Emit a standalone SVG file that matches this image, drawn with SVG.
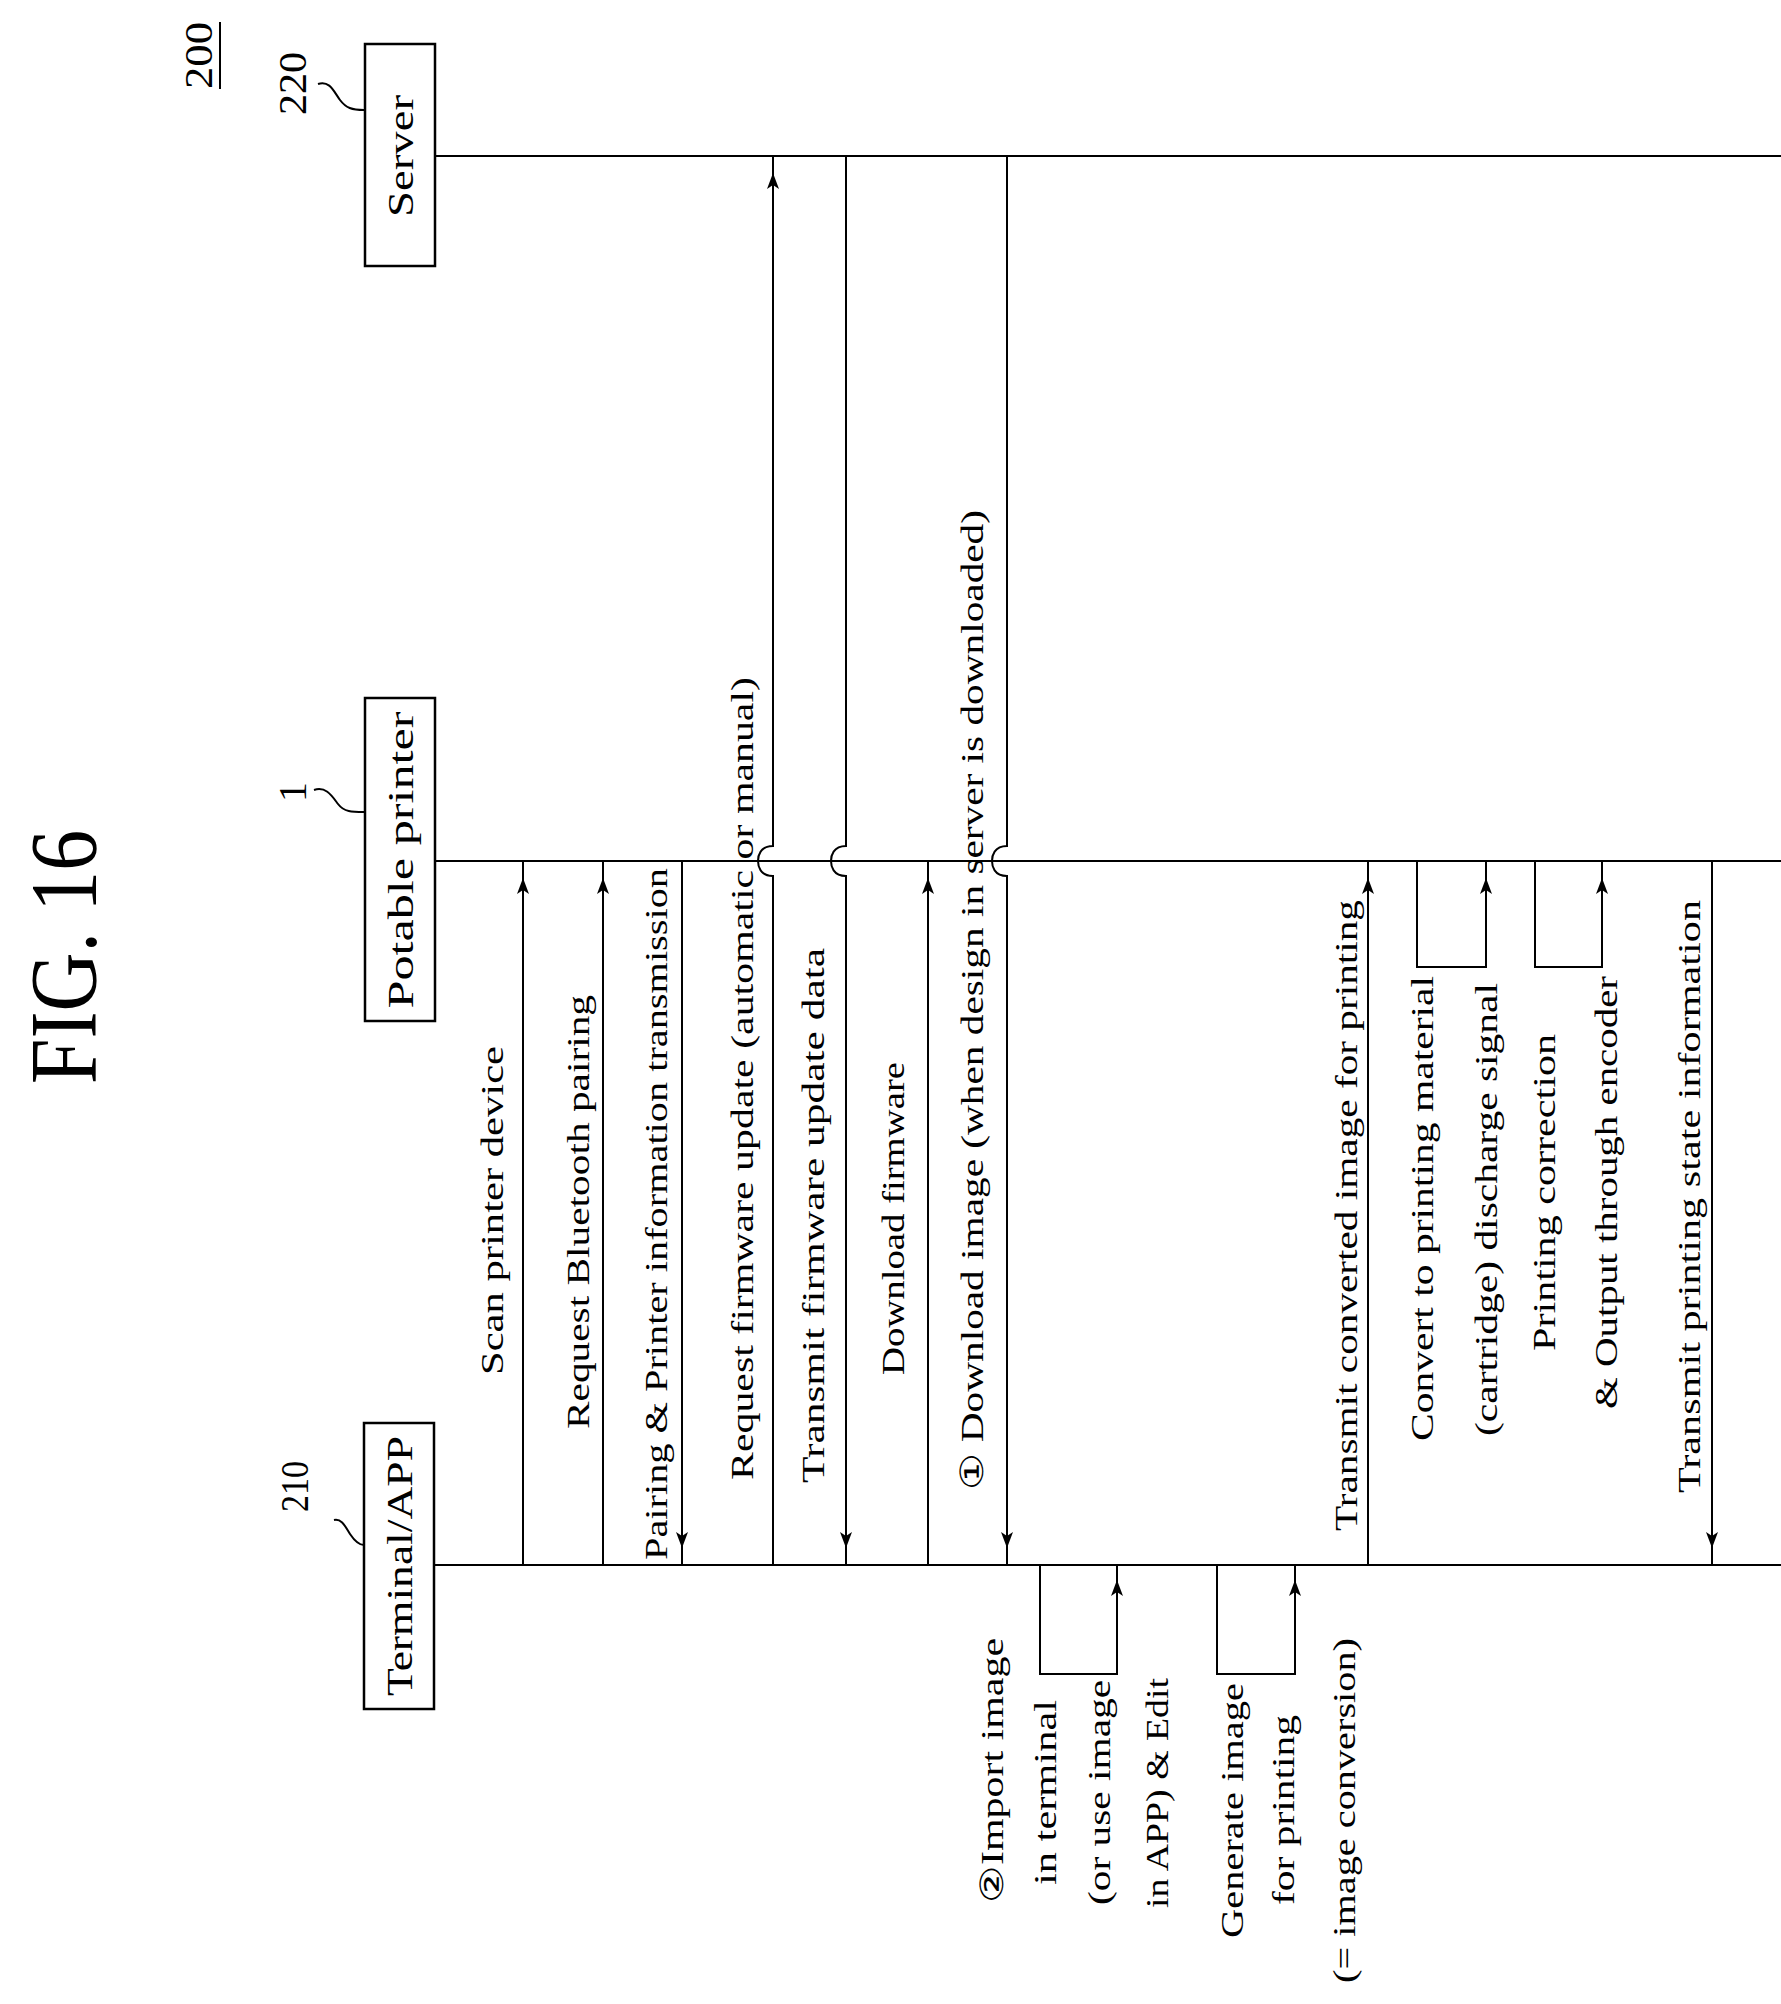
<svg xmlns="http://www.w3.org/2000/svg" width="1781" height="2004" viewBox="0 0 1781 2004">
<style>
text{font-family:"Liberation Serif","Times New Roman",serif;fill:#000}
.m{font-size:32px}
.b{font-size:36px}
.n{font-size:40px}
.ln{fill:none;stroke:#000;stroke-width:2}
.box{fill:#fff;stroke:#000;stroke-width:2.5}
</style>
<defs>
<path id="au" d="M0,0 L-6,16 L0,12 L6,16 Z" fill="#000"/>
<path id="ad" d="M0,0 L-6,-16 L0,-12 L6,-16 Z" fill="#000"/>
</defs>
<g id="title">
<text transform="translate(96,1084) rotate(-90)" font-size="96" textLength="254" lengthAdjust="spacingAndGlyphs">FIG. 16</text>
<text class="n" transform="translate(212,89) rotate(-90)" textLength="67" lengthAdjust="spacingAndGlyphs">200</text>
<line x1="220" y1="22" x2="220" y2="89" class="ln"/>
</g>
<g id="server">
<rect class="box" x="365" y="44" width="70" height="222"/>
<text class="b" text-anchor="middle" transform="translate(413,156) rotate(-90)" textLength="122" lengthAdjust="spacingAndGlyphs">Server</text>
<text class="n" transform="translate(306,115) rotate(-90)" textLength="63" lengthAdjust="spacingAndGlyphs">220</text>
<path class="ln" d="M318,84 C330,80 334,92 340,100 C346,108 352,110 364,110"/>
</g>
<g id="printer">
<rect class="box" x="365" y="698" width="70" height="323"/>
<text class="b" text-anchor="middle" transform="translate(413,860) rotate(-90)" textLength="297" lengthAdjust="spacingAndGlyphs">Potable printer</text>
<text class="n" transform="translate(306,802) rotate(-90)">1</text>
<path class="ln" d="M314,790 C326,786 332,796 338,804 C344,812 352,812 364,812"/>
</g>
<g id="terminal">
<rect class="box" x="364" y="1423" width="70" height="286"/>
<text class="b" text-anchor="middle" transform="translate(412,1566) rotate(-90)" textLength="260" lengthAdjust="spacingAndGlyphs">Terminal/APP</text>
<text class="n" transform="translate(308,1512) rotate(-90)" textLength="51" lengthAdjust="spacingAndGlyphs">210</text>
<path class="ln" d="M334,1520 C342,1518 346,1528 350,1534 C354,1540 358,1545 364,1545"/>
</g>
<g id="connectors">
<line class="ln" x1="435" y1="156" x2="1781" y2="156"/>
<line class="ln" x1="435" y1="861" x2="1781" y2="861"/>
<line class="ln" x1="434" y1="1565" x2="1781" y2="1565"/>
<line class="ln" x1="523" y1="1565" x2="523" y2="861"/><use href="#au" x="523" y="878"/>
<line class="ln" x1="603" y1="1565" x2="603" y2="861"/><use href="#au" x="603" y="878"/>
<line class="ln" x1="682" y1="861" x2="682" y2="1565"/><use href="#ad" x="682" y="1548"/>
<path class="ln" d="M773,1565 V876 C760,876 758,866 758,861 C758,856 760,846 773,846 V156"/><use href="#au" x="773" y="173"/>
<path class="ln" d="M846,156 V846 C833,846 831,856 831,861 C831,866 833,876 846,876 V1565"/><use href="#ad" x="846" y="1548"/>
<line class="ln" x1="928" y1="1565" x2="928" y2="861"/><use href="#au" x="928" y="878"/>
<path class="ln" d="M1007,156 V846 C994,846 992,856 992,861 C992,866 994,876 1007,876 V1565"/><use href="#ad" x="1007" y="1548"/>
<path class="ln" d="M1040,1565 V1674 H1117 V1565"/><use href="#au" x="1117" y="1580"/>
<path class="ln" d="M1217,1565 V1674 H1295 V1565"/><use href="#au" x="1295" y="1580"/>
<line class="ln" x1="1368" y1="1565" x2="1368" y2="861"/><use href="#au" x="1368" y="878"/>
<path class="ln" d="M1417,861 V967 H1486 V861"/><use href="#au" x="1486" y="878"/>
<path class="ln" d="M1535,861 V967 H1602 V861"/><use href="#au" x="1602" y="878"/>
<line class="ln" x1="1712" y1="861" x2="1712" y2="1565"/><use href="#ad" x="1712" y="1548"/>
</g>
<g id="labels">
<text class="m" transform="translate(503,1375) rotate(-90)" textLength="329" lengthAdjust="spacingAndGlyphs">Scan printer device</text>
<text class="m" transform="translate(589,1429) rotate(-90)" textLength="434" lengthAdjust="spacingAndGlyphs">Request Bluetooth pairing</text>
<text class="m" transform="translate(667,1560) rotate(-90)" textLength="692" lengthAdjust="spacingAndGlyphs">Pairing &amp; Printer information transmission</text>
<text class="m" transform="translate(753,1480) rotate(-90)" textLength="803" lengthAdjust="spacingAndGlyphs">Request firmware update (automatic or manual)</text>
<text class="m" transform="translate(824,1483) rotate(-90)" textLength="535" lengthAdjust="spacingAndGlyphs">Transmit firmware update data</text>
<text class="m" transform="translate(904,1375) rotate(-90)" textLength="313" lengthAdjust="spacingAndGlyphs">Download firmware</text>
<text class="m" transform="translate(983,1490) rotate(-90)" textLength="980" lengthAdjust="spacingAndGlyphs">① Download image (when design in server is downloaded)</text>
<text class="m" transform="translate(1357,1531) rotate(-90)" textLength="631" lengthAdjust="spacingAndGlyphs">Transmit converted image for printing</text>
<text class="m" transform="translate(1433,1441) rotate(-90)" textLength="465" lengthAdjust="spacingAndGlyphs">Convert to printing material</text>
<text class="m" transform="translate(1497,1436) rotate(-90)" textLength="453" lengthAdjust="spacingAndGlyphs">(cartridge) discharge signal</text>
<text class="m" transform="translate(1555,1351) rotate(-90)" textLength="317" lengthAdjust="spacingAndGlyphs">Printing correction</text>
<text class="m" transform="translate(1617,1409) rotate(-90)" textLength="433" lengthAdjust="spacingAndGlyphs">&amp; Output through encoder</text>
<text class="m" transform="translate(1700,1493) rotate(-90)" textLength="593" lengthAdjust="spacingAndGlyphs">Transmit printing state information</text>
<text class="m" transform="translate(1003,1903) rotate(-90)" textLength="265" lengthAdjust="spacingAndGlyphs">②Import image</text>
<text class="m" transform="translate(1056,1885) rotate(-90)" textLength="185" lengthAdjust="spacingAndGlyphs">in terminal</text>
<text class="m" transform="translate(1110,1905) rotate(-90)" textLength="225" lengthAdjust="spacingAndGlyphs">(or use image</text>
<text class="m" transform="translate(1168,1908) rotate(-90)" textLength="230" lengthAdjust="spacingAndGlyphs">in APP) &amp; Edit</text>
<text class="m" transform="translate(1243,1938) rotate(-90)" textLength="255" lengthAdjust="spacingAndGlyphs">Generate image</text>
<text class="m" transform="translate(1294,1905) rotate(-90)" textLength="190" lengthAdjust="spacingAndGlyphs">for printing</text>
<text class="m" transform="translate(1355,1983) rotate(-90)" textLength="345" lengthAdjust="spacingAndGlyphs">(= image conversion)</text>
</g>
</svg>
